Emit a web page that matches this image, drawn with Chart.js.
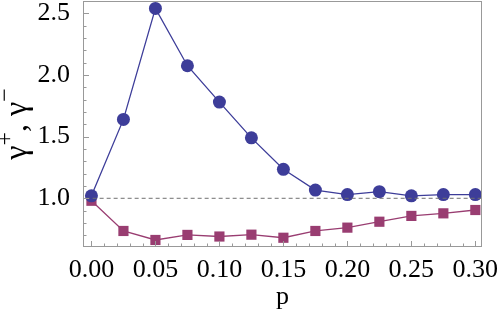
<!DOCTYPE html>
<html>
<head>
<meta charset="utf-8">
<script src="https://cdn.jsdelivr.net/npm/chart.js@4"></script>
<style>
  html, body { margin: 0; padding: 0; background: #fff; }
  #wrap { width: 500px; height: 317px; }
</style>
</head>
<body>
<div id="wrap"><canvas id="chart"></canvas></div>
<script>
const pValues = [0.000, 0.025, 0.050, 0.075, 0.100, 0.125, 0.150, 0.175, 0.200, 0.225, 0.250, 0.275, 0.300];
const gammaPlus  = [1.02, 1.64, 2.54, 2.075, 1.78, 1.49, 1.235, 1.067, 1.03, 1.054, 1.02, 1.03, 1.03];
const gammaMinus = [0.98, 0.735, 0.662, 0.703, 0.69, 0.705, 0.68, 0.735, 0.762, 0.81, 0.857, 0.878, 0.905];
const xMajorTicks = [0.00, 0.05, 0.10, 0.15, 0.20, 0.25, 0.30];
const yMajorTicks = [1.0, 1.5, 2.0, 2.5];
const referenceLevel = 1.0;

const blue = "#3d3d99";
const magenta = "#993d71";
const frameColor = "#999999";
const serif = "Liberation Serif";

const toPoints = ys => pValues.map((p, i) => ({ x: p, y: ys[i] }));

// inward ticks + frame, Mathematica style
const framePlugin = {
    id: "frame",
    afterDraw(chart) {
        const { ctx, chartArea: a, scales: { x, y } } = chart;
        ctx.save();
        ctx.strokeStyle = frameColor;
        ctx.lineWidth = 1;
        ctx.strokeRect(a.left + 0.5, a.top + 0.5, a.right - a.left - 1, a.bottom - a.top - 1);

        ctx.beginPath();
        for (let i = 0; i <= 30; i++) {
            const v = i / 100;
            const px = Math.round(x.getPixelForValue(v)) + 0.5;
            const len = i % 5 === 0 ? 6 : 3.5;
            ctx.moveTo(px, a.bottom);
            ctx.lineTo(px, a.bottom - len);
        }
        for (let i = 7; i <= 26; i++) {
            const v = i / 10;
            const py = Math.round(y.getPixelForValue(v)) + 0.5;
            const len = i % 5 === 0 ? 6 : 3.5;
            ctx.moveTo(a.left, py);
            ctx.lineTo(a.left + len, py);
        }
        ctx.stroke();

        // y title with superscripts
        ctx.fillStyle = "#000";
        ctx.translate(26, (a.top + a.bottom) / 2);
        ctx.rotate(-Math.PI / 2);
        const parts = [["γ", 32, 0], ["+", 24, -14], [", ", 32, 0], ["γ", 32, 0], ["−", 24, -14]];
        let total = 0;
        parts.forEach(([t, s]) => { ctx.font = `${s}px "${serif}"`; total += ctx.measureText(t).width; });
        let cx = -total / 2;
        parts.forEach(([t, s, dy]) => {
            ctx.font = `${s}px "${serif}"`;
            ctx.fillText(t, cx, dy);
            cx += ctx.measureText(t).width;
        });
        ctx.restore();
    }
};

new Chart(document.getElementById("chart"), {
    type: "line",
    data: {
        datasets: [
            {
                data: [{ x: -0.01, y: referenceLevel }, { x: 0.31, y: referenceLevel }],
                borderColor: "#707070",
                borderWidth: 1,
                borderDash: [4, 3],
                pointRadius: 0
            },
            {
                data: toPoints(gammaPlus),
                borderColor: blue,
                backgroundColor: blue,
                borderWidth: 1.3,
                pointStyle: "circle",
                pointRadius: 6.5,
                pointBorderWidth: 0
            },
            {
                data: toPoints(gammaMinus),
                borderColor: magenta,
                backgroundColor: magenta,
                borderWidth: 1.3,
                pointStyle: "rect",
                pointRadius: 7.2,
                pointBorderWidth: 0
            }
        ]
    },
    options: {
        responsive: true,
        maintainAspectRatio: false,
        animation: false,
        layout: { autoPadding: false, padding: { top: 1, right: 18, left: 0, bottom: 0 } },
        plugins: { legend: { display: false }, tooltip: { enabled: false } },
        scales: {
            x: {
                type: "linear",
                min: -0.0066,
                max: 0.3052,
                afterBuildTicks: s => { s.ticks = xMajorTicks.map(v => ({ value: v })); },
                afterFit: s => { s.height = 70; s.paddingLeft = 0; s.paddingRight = 0; },
                grid: { display: false },
                border: { display: false },
                ticks: {
                    color: "#000",
                    padding: 0,
                    maxRotation: 0,
                    font: { family: serif, size: 26 },
                    callback: v => v.toFixed(2)
                },
                title: {
                    display: true,
                    text: "p",
                    color: "#000",
                    padding: { top: 8 },
                    font: { family: serif, size: 26 }
                }
            },
            y: {
                min: 0.605,
                max: 2.6,
                afterBuildTicks: s => { s.ticks = yMajorTicks.map(v => ({ value: v })); },
                afterFit: s => { s.width = 83; s.paddingTop = 0; s.paddingBottom = 0; },
                grid: { display: false },
                border: { display: false },
                ticks: {
                    color: "#000",
                    padding: 5,
                    font: { family: serif, size: 26 },
                    callback: v => v.toFixed(1)
                }
            }
        }
    },
    plugins: [framePlugin]
});
</script>
</body>
</html>
